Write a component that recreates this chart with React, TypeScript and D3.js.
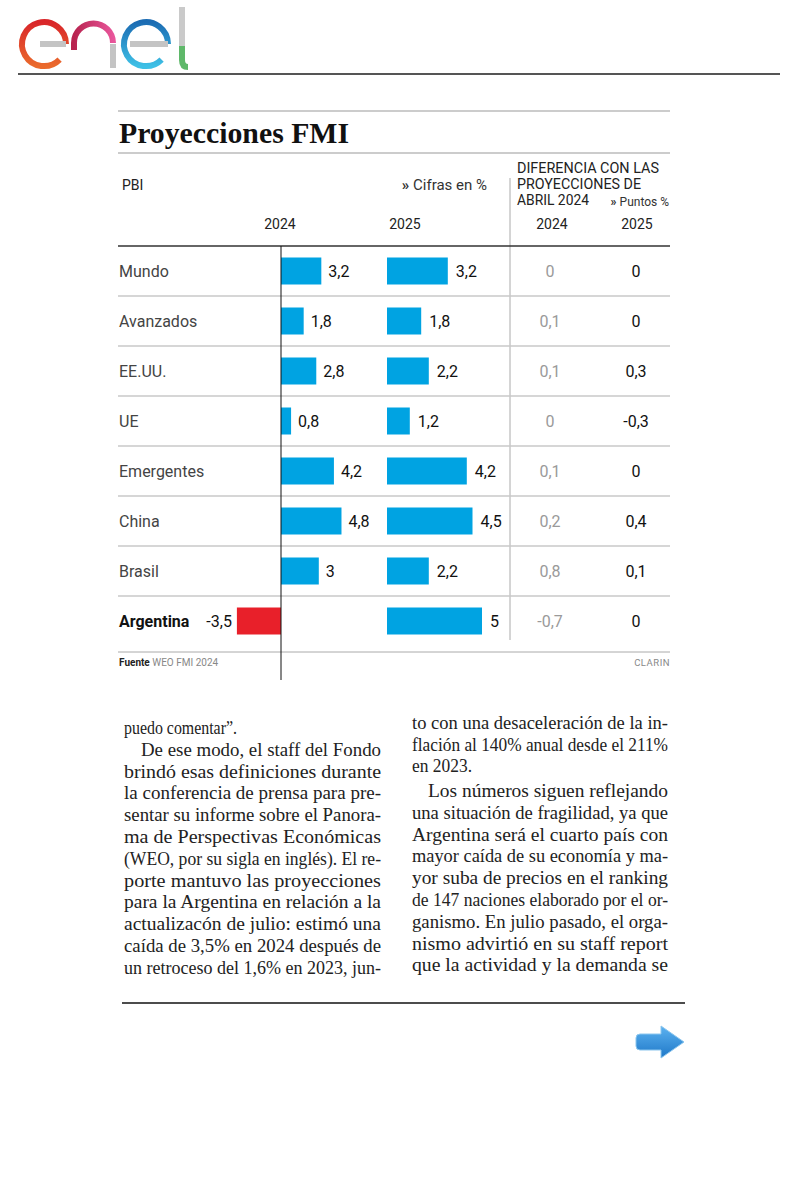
import React from "react";
import * as d3 from "d3";

const countries = ["Mundo", "Avanzados", "EE.UU.", "UE", "Emergentes", "China", "Brasil", "Argentina"];
const pbi2024 = [3.2, 1.8, 2.8, 0.8, 4.2, 4.8, 3, -3.5];
const pbi2025 = [3.2, 1.8, 2.2, 1.2, 4.2, 4.5, 2.2, 5];
const dif2024 = [0, 0.1, 0.1, 0, 0.1, 0.2, 0.8, -0.7];
const dif2025 = [0, 0, 0.3, -0.3, 0, 0.4, 0.1, 0];

const leftLines = [
  "puedo comentar”.",
  "De ese modo, el staff del Fondo",
  "brindó esas definiciones durante",
  "la conferencia de prensa para pre-",
  "sentar su informe sobre el Panora-",
  "ma de Perspectivas Económicas",
  "(WEO, por su sigla en inglés). El re-",
  "porte mantuvo las proyecciones",
  "para la Argentina en relación a la",
  "actualizacón de julio: estimó una",
  "caída de 3,5% en 2024 después de",
  "un retroceso del 1,6% en 2023, jun-",
];
const rightLines = [
  "to con una desaceleración de la in-",
  "flación al 140% anual desde el 211%",
  "en 2023.",
  "Los números siguen reflejando",
  "una situación de fragilidad, ya que",
  "Argentina será el cuarto país con",
  "mayor caída de su economía y ma-",
  "yor suba de precios en el ranking",
  "de 147 naciones elaborado por el or-",
  "ganismo. En julio pasado, el orga-",
  "nismo advirtió en su staff report",
  "que la actividad y la demanda se",
];

const fmt = (v: number) => String(v).replace(".", ",");

export default function App() {
  const y = d3.scaleBand<string>().domain(countries).range([246, 646]);
  const x24 = d3.scaleLinear().domain([0, 5]).range([281, 344]);
  const x25 = d3.scaleLinear().domain([0, 5]).range([387, 482]);
  const barH = 27;
  const step = y.step();
  const sans = "Roboto, 'Liberation Sans', sans-serif";
  const serif = "'Liberation Serif', 'DejaVu Serif', serif";
  const blue = "#00a3e2";

  const leftY = (i: number) => 734 + i * 21.8;
  const rightY = (i: number) => (i < 3 ? 729 + i * 21.7 : 797 + (i - 3) * 21.8);

  return (
    <svg
      width={800}
      height={1200}
      style={{ position: "absolute", left: 0, top: 0, background: "#fff" }}
    >
      <defs>
        <linearGradient id="gRed" x1="0" y1="0" x2="0" y2="1">
          <stop offset="0" stopColor="#d9262a" />
          <stop offset="1" stopColor="#ea6a2c" />
        </linearGradient>
        <linearGradient id="gPink" x1="0" y1="0" x2="1" y2="0">
          <stop offset="0" stopColor="#b8234f" />
          <stop offset="1" stopColor="#e8559a" />
        </linearGradient>
        <linearGradient id="gBlue" x1="0" y1="0" x2="0" y2="1">
          <stop offset="0" stopColor="#1c6cb3" />
          <stop offset="1" stopColor="#3ec0e6" />
        </linearGradient>
        <linearGradient id="gArrow" x1="0" y1="0" x2="0" y2="1">
          <stop offset="0" stopColor="#5cb2f0" />
          <stop offset="1" stopColor="#1f78c8" />
        </linearGradient>
      </defs>

      {/* Logo */}
      <g fill="none" strokeWidth={6} strokeLinecap="butt">
        <path d="M 66 44 A 22 22 0 1 0 59.6 59.6" stroke="url(#gRed)" />
        <path d="M 40 44 H 66" stroke="#c4c4c4" />
        <path d="M 74 50 V 43 A 19.5 19.5 0 0 1 113 43" stroke="url(#gPink)" />
        <path d="M 113 44 V 68" stroke="#c4c4c4" />
        <path d="M 168 44 A 22 22 0 1 0 161.6 59.6" stroke="url(#gBlue)" />
        <path d="M 130 44 H 168" stroke="#c4c4c4" />
        <path d="M 182 7 V 46" stroke="#cacaca" />
        <path d="M 182 46 V 60 Q 182 67 188 67" stroke="#5fb86a" />
      </g>
      <line x1={18} x2={780} y1={74} y2={74} stroke="#555" strokeWidth={2} />

      {/* Chart frame */}
      <line x1={118} x2={670} y1={111} y2={111} stroke="#999" strokeWidth={1} />
      <text x={119} y={143} fontFamily={serif} fontWeight="bold" fontSize={30} fill="#111" textLength={230} lengthAdjust="spacingAndGlyphs">
        Proyecciones FMI
      </text>
      <line x1={118} x2={670} y1={153} y2={153} stroke="#999" strokeWidth={1} />

      <g fontFamily={sans} fill="#222">
        <text x={122} y={190} fontSize={14}>PBI</text>
        <text x={487} y={190} fontSize={15} textAnchor="end" fill="#333">
          <tspan fontWeight="bold">»</tspan> Cifras en %
        </text>
        <text x={517} y={173} fontSize={14} textLength={142} lengthAdjust="spacingAndGlyphs">DIFERENCIA CON LAS</text>
        <text x={517} y={189} fontSize={14} textLength={124} lengthAdjust="spacingAndGlyphs">PROYECCIONES DE</text>
        <text x={517} y={205} fontSize={14} textLength={72} lengthAdjust="spacingAndGlyphs">ABRIL 2024</text>
        <text x={669} y={206} fontSize={12} textAnchor="end" fill="#333">
          <tspan fontWeight="bold">»</tspan> Puntos %
        </text>
        <text x={280} y={229} fontSize={14} textAnchor="middle">2024</text>
        <text x={405} y={229} fontSize={14} textAnchor="middle">2025</text>
        <text x={552} y={229} fontSize={14} textAnchor="middle">2024</text>
        <text x={637} y={229} fontSize={14} textAnchor="middle">2025</text>
      </g>

      <line x1={510} x2={510} y1={178} y2={640} stroke="#aaa" strokeWidth={1} />

      {/* Row separators */}
      {countries.slice(1).map((c) => (
        <line key={"sep" + c} x1={118} x2={670} y1={y(c)!} y2={y(c)!} stroke="#c8c8c8" strokeWidth={1.5} />
      ))}
      <line x1={118} x2={670} y1={246} y2={246} stroke="#333" strokeWidth={1.5} />
      <line x1={118} x2={670} y1={652} y2={652} stroke="#aaa" strokeWidth={1} />

      {/* Bars */}
      {countries.map((c, i) => {
        const cy = y(c)! + step / 2;
        const v24 = pbi2024[i];
        const v25 = pbi2025[i];
        const neg = v24 < 0;
        const isArg = c === "Argentina";
        return (
          <g key={c} fontFamily={sans}>
            <text x={119} y={cy + 5.5} fontSize={16} fill={isArg ? "#111" : "#444"} fontWeight={isArg ? "bold" : 400}>
              {c}
            </text>
            <rect
              x={Math.min(x24(0), x24(v24))}
              y={cy - barH / 2}
              width={Math.abs(x24(v24) - x24(0))}
              height={barH}
              fill={neg ? "#e8202a" : blue}
            />
            <text
              x={neg ? x24(v24) - 5 : x24(v24) + 7}
              y={cy + 5.5}
              fontSize={16}
              fill="#111"
              textAnchor={neg ? "end" : "start"}
            >
              {fmt(v24)}
            </text>
            <rect x={x25(0)} y={cy - barH / 2} width={x25(v25) - x25(0)} height={barH} fill={blue} />
            <text x={x25(v25) + 8} y={cy + 5.5} fontSize={16} fill="#111">
              {fmt(v25)}
            </text>
            <text x={550} y={cy + 5.5} fontSize={16} fill="#9a9a9a" textAnchor="middle">
              {fmt(dif2024[i])}
            </text>
            <text x={636} y={cy + 5.5} fontSize={16} fill="#111" textAnchor="middle">
              {fmt(dif2025[i])}
            </text>
          </g>
        );
      })}

      {/* Zero axis */}
      <line x1={x24(0)} x2={x24(0)} y1={246} y2={680} stroke="#111" strokeWidth={1} />

      {/* Source */}
      <text x={119} y={666} fontFamily={sans} fontSize={10} fill="#222">
        <tspan fontWeight="bold">Fuente</tspan>
        <tspan fill="#888"> WEO FMI 2024</tspan>
      </text>
      <text x={670} y={666} fontFamily={sans} fontSize={9.5} fill="#888" textAnchor="end" letterSpacing={0.5}>
        CLARIN
      </text>

      {/* Body text */}
      <g fontFamily={serif} fontSize={19} fill="#222">
        {leftLines.map((t, i) => {
          const indent = i === 1 ? 17 : 0;
          const w = i === 0 ? 113 : 257 - indent;
          return (
            <text key={"l" + i} x={124 + indent} y={leftY(i)} textLength={w} lengthAdjust="spacingAndGlyphs">
              {t}
            </text>
          );
        })}
        {rightLines.map((t, i) => {
          const indent = i === 3 ? 16 : 0;
          const w = i === 2 ? 60 : 256 - indent;
          return (
            <text key={"r" + i} x={412 + indent} y={rightY(i)} textLength={w} lengthAdjust="spacingAndGlyphs">
              {t}
            </text>
          );
        })}
      </g>
      <line x1={122} x2={685} y1={1003} y2={1003} stroke="#111" strokeWidth={1.5} />

      {/* Arrow */}
      <path
        d="M 640 1034 H 661 V 1026 L 684 1042 L 661 1058 V 1050 H 640 Q 636 1050 636 1046 V 1038 Q 636 1034 640 1034 Z"
        fill="url(#gArrow)"
        stroke="#8cc6ee"
        strokeWidth={1}
      />
    </svg>
  );
}
